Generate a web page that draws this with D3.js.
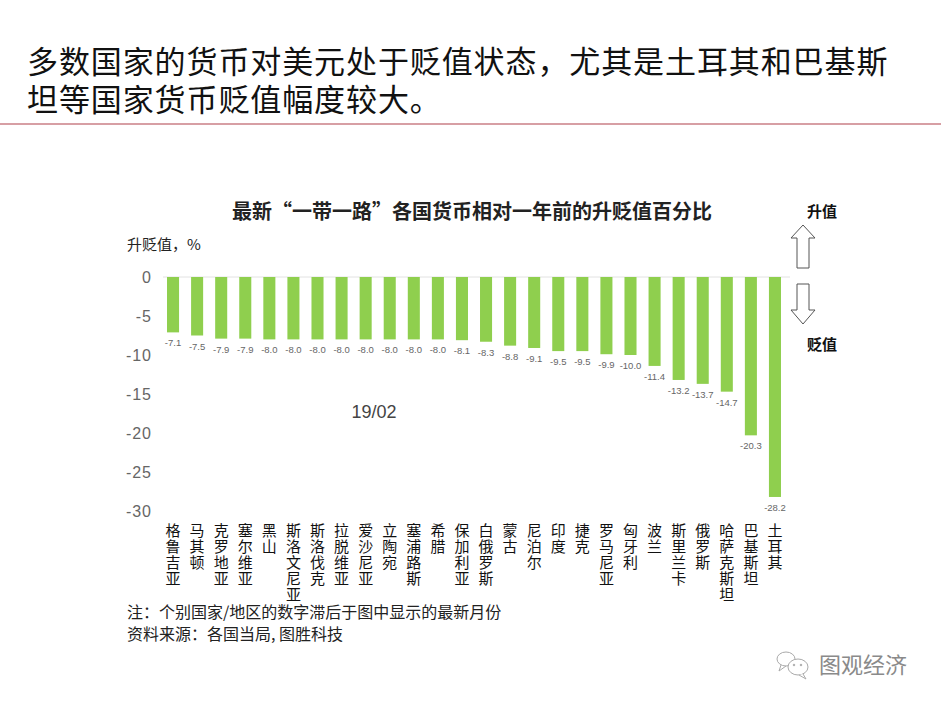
<!DOCTYPE html>
<html>
<head>
<meta charset="utf-8">
<script src="https://cdn.jsdelivr.net/npm/d3@7"></script>
<style>
  body { margin: 0; background: #fff; }
  svg { display: block; }
  .tick text { font-family: "Liberation Sans", Arial, sans-serif; }
</style>
</head>
<body>
<div id="chart"></div>
<script>
var width = 941;
var height = 706;

// data
var categories = ["格鲁吉亚", "马其顿", "克罗地亚", "塞尔维亚", "黑山", "斯洛文尼亚", "斯洛伐克",
    "拉脱维亚", "爱沙尼亚", "立陶宛", "塞浦路斯", "希腊", "保加利亚", "白俄罗斯", "蒙古", "尼泊尔",
    "印度", "捷克", "罗马尼亚", "匈牙利", "波兰", "斯里兰卡", "俄罗斯", "哈萨克斯坦", "巴基斯坦", "土耳其"];
var values = [-7.1, -7.5, -7.9, -7.9, -8.0, -8.0, -8.0, -8.0, -8.0, -8.0, -8.0, -8.0, -8.1, -8.3,
    -8.8, -9.1, -9.5, -9.5, -9.9, -10.0, -11.4, -13.2, -13.7, -14.7, -20.3, -28.2];
var yTicks = [0, -5, -10, -15, -20, -25, -30];

var headline = ["多数国家的货币对美元处于贬值状态，尤其是土耳其和巴基斯", "坦等国家货币贬值幅度较大。"];
var chartTitle = "最新“一带一路”各国货币相对一年前的升贬值百分比";
var notes = ["注：个别国家/地区的数字滞后于图中显示的最新月份", "资料来源：各国当局, 图胜科技"];

var cjk = '"Noto Sans CJK SC", sans-serif';

var svg = d3.select("#chart").append("svg")
    .attr("width", width)
    .attr("height", height);

// ----- headline ----- //
svg.selectAll(".headline")
    .data(headline)
    .enter().append("text")
    .attr("class", "headline")
    .attr("x", 27)
    .attr("y", function(d, i) { return 73 + i * 38; })
    .style("font-family", cjk)
    .style("font-size", "31px")
    .style("letter-spacing", "0.9px")
    .style("fill", "#111")
    .text(function(d) { return d; });

svg.append("line")
    .attr("x1", 0).attr("x2", width)
    .attr("y1", 124).attr("y2", 124)
    .style("stroke", "#b0404a")
    .style("stroke-width", 1.2);

// ----- chart ----- //
var xScale = d3.scaleBand()
    .domain(categories)
    .range([161, 787])
    .paddingInner(0.5)
    .paddingOuter(0.25);

var yScale = d3.scaleLinear()
    .domain([0, -30])
    .range([277, 511]);

svg.append("text")
    .attr("x", 472)
    .attr("y", 219)
    .attr("text-anchor", "middle")
    .style("font-family", cjk)
    .style("font-size", "20px")
    .style("font-weight", "bold")
    .style("fill", "#222")
    .text(chartTitle);

svg.append("text")
    .attr("x", 127)
    .attr("y", 250)
    .style("font-family", cjk)
    .style("font-size", "15px")
    .style("fill", "#222")
    .text("升贬值，%");

var yAxis = svg.append("g")
    .attr("transform", "translate(152,0)")
    .call(d3.axisLeft(yScale).tickValues(yTicks).tickSize(0).tickPadding(0)
        .tickFormat(function(d) { return d === 0 ? "0" : "-" + Math.abs(d); }));
yAxis.select(".domain").remove();
yAxis.selectAll("text")
    .style("font-size", "16px")
    .style("fill", "#666")
    .style("letter-spacing", "1px");

svg.append("line")
    .attr("x1", 163).attr("x2", 790)
    .attr("y1", yScale(0)).attr("y2", yScale(0))
    .style("stroke", "#e2e2e2")
    .style("stroke-width", 1);

svg.selectAll(".bar")
    .data(values)
    .enter().append("rect")
    .attr("class", "bar")
    .attr("x", function(d, i) { return xScale(categories[i]); })
    .attr("width", xScale.bandwidth())
    .attr("y", yScale(0))
    .attr("height", function(d) { return yScale(d) - yScale(0); })
    .style("fill", "#8fcf4e");

svg.selectAll(".vlabel")
    .data(values)
    .enter().append("text")
    .attr("class", "vlabel")
    .attr("x", function(d, i) { return xScale(categories[i]) + xScale.bandwidth() / 2; })
    .attr("y", function(d) { return yScale(d) + 14; })
    .attr("text-anchor", "middle")
    .style("font-family", '"Liberation Sans", Arial, sans-serif')
    .style("font-size", "9.5px")
    .style("fill", "#666")
    .text(function(d) { return d.toFixed(1); });

// vertical category labels, one line per character
var catLabels = svg.selectAll(".cat")
    .data(categories)
    .enter().append("text")
    .attr("class", "cat")
    .attr("text-anchor", "middle")
    .style("font-family", cjk)
    .style("font-size", "15px")
    .style("fill", "#111");

catLabels.selectAll("tspan")
    .data(function(d) {
        return d.split("").map(function(c) { return { c: c, cat: d }; });
    })
    .enter().append("tspan")
    .attr("x", function(d) { return xScale(d.cat) + xScale.bandwidth() / 2; })
    .attr("y", function(d, i) { return 536 + i * 16; })
    .text(function(d) { return d.c; });

svg.append("text")
    .attr("x", 374)
    .attr("y", 418)
    .attr("text-anchor", "middle")
    .style("font-family", '"Liberation Sans", Arial, sans-serif')
    .style("font-size", "18px")
    .style("fill", "#444")
    .text("19/02");

// ----- arrows ----- //
var upArrow = [[803, 225], [815, 238], [809, 238], [809, 268], [797, 268], [797, 238], [791, 238]];
var downArrow = [[797, 284], [809, 284], [809, 310], [815, 310], [803, 324], [791, 310], [797, 310]];
svg.selectAll(".arrow")
    .data([upArrow, downArrow])
    .enter().append("path")
    .attr("class", "arrow")
    .attr("d", function(d) { return d3.line()(d) + "Z"; })
    .style("fill", "#fff")
    .style("stroke", "#555")
    .style("stroke-width", 1);

svg.selectAll(".arrowlabel")
    .data(["升值", "贬值"])
    .enter().append("text")
    .attr("class", "arrowlabel")
    .attr("x", 822)
    .attr("y", function(d, i) { return i === 0 ? 217 : 350; })
    .attr("text-anchor", "middle")
    .style("font-family", cjk)
    .style("font-size", "15px")
    .style("font-weight", "bold")
    .style("fill", "#111")
    .text(function(d) { return d; });

// ----- notes ----- //
svg.selectAll(".note")
    .data(notes)
    .enter().append("text")
    .attr("class", "note")
    .attr("x", 127)
    .attr("y", function(d, i) { return 618 + i * 22; })
    .style("font-family", cjk)
    .style("font-size", "16px")
    .style("fill", "#222")
    .text(function(d) { return d; });

// ----- watermark ----- //
var wm = svg.append("g").style("fill", "none").style("stroke", "#aaa").style("stroke-width", 1);
wm.append("ellipse").attr("cx", 786).attr("cy", 659).attr("rx", 9).attr("ry", 7);
wm.append("path").attr("d", "M781,665 L779,671 L786,666");
wm.append("ellipse").attr("cx", 798).attr("cy", 667).attr("rx", 10).attr("ry", 8).style("fill", "#fff");
wm.append("path").attr("d", "M803,674 L806,679 L799,675").style("fill", "#fff");
wm.append("circle").attr("cx", 794).attr("cy", 665).attr("r", 0.8).style("fill", "#aaa");
wm.append("circle").attr("cx", 801).attr("cy", 665).attr("r", 0.8).style("fill", "#aaa");

svg.append("text")
    .attr("x", 819)
    .attr("y", 673)
    .style("font-family", cjk)
    .style("font-size", "22px")
    .style("fill", "#8a8a8a")
    .text("图观经济");
</script>
</body>
</html>
